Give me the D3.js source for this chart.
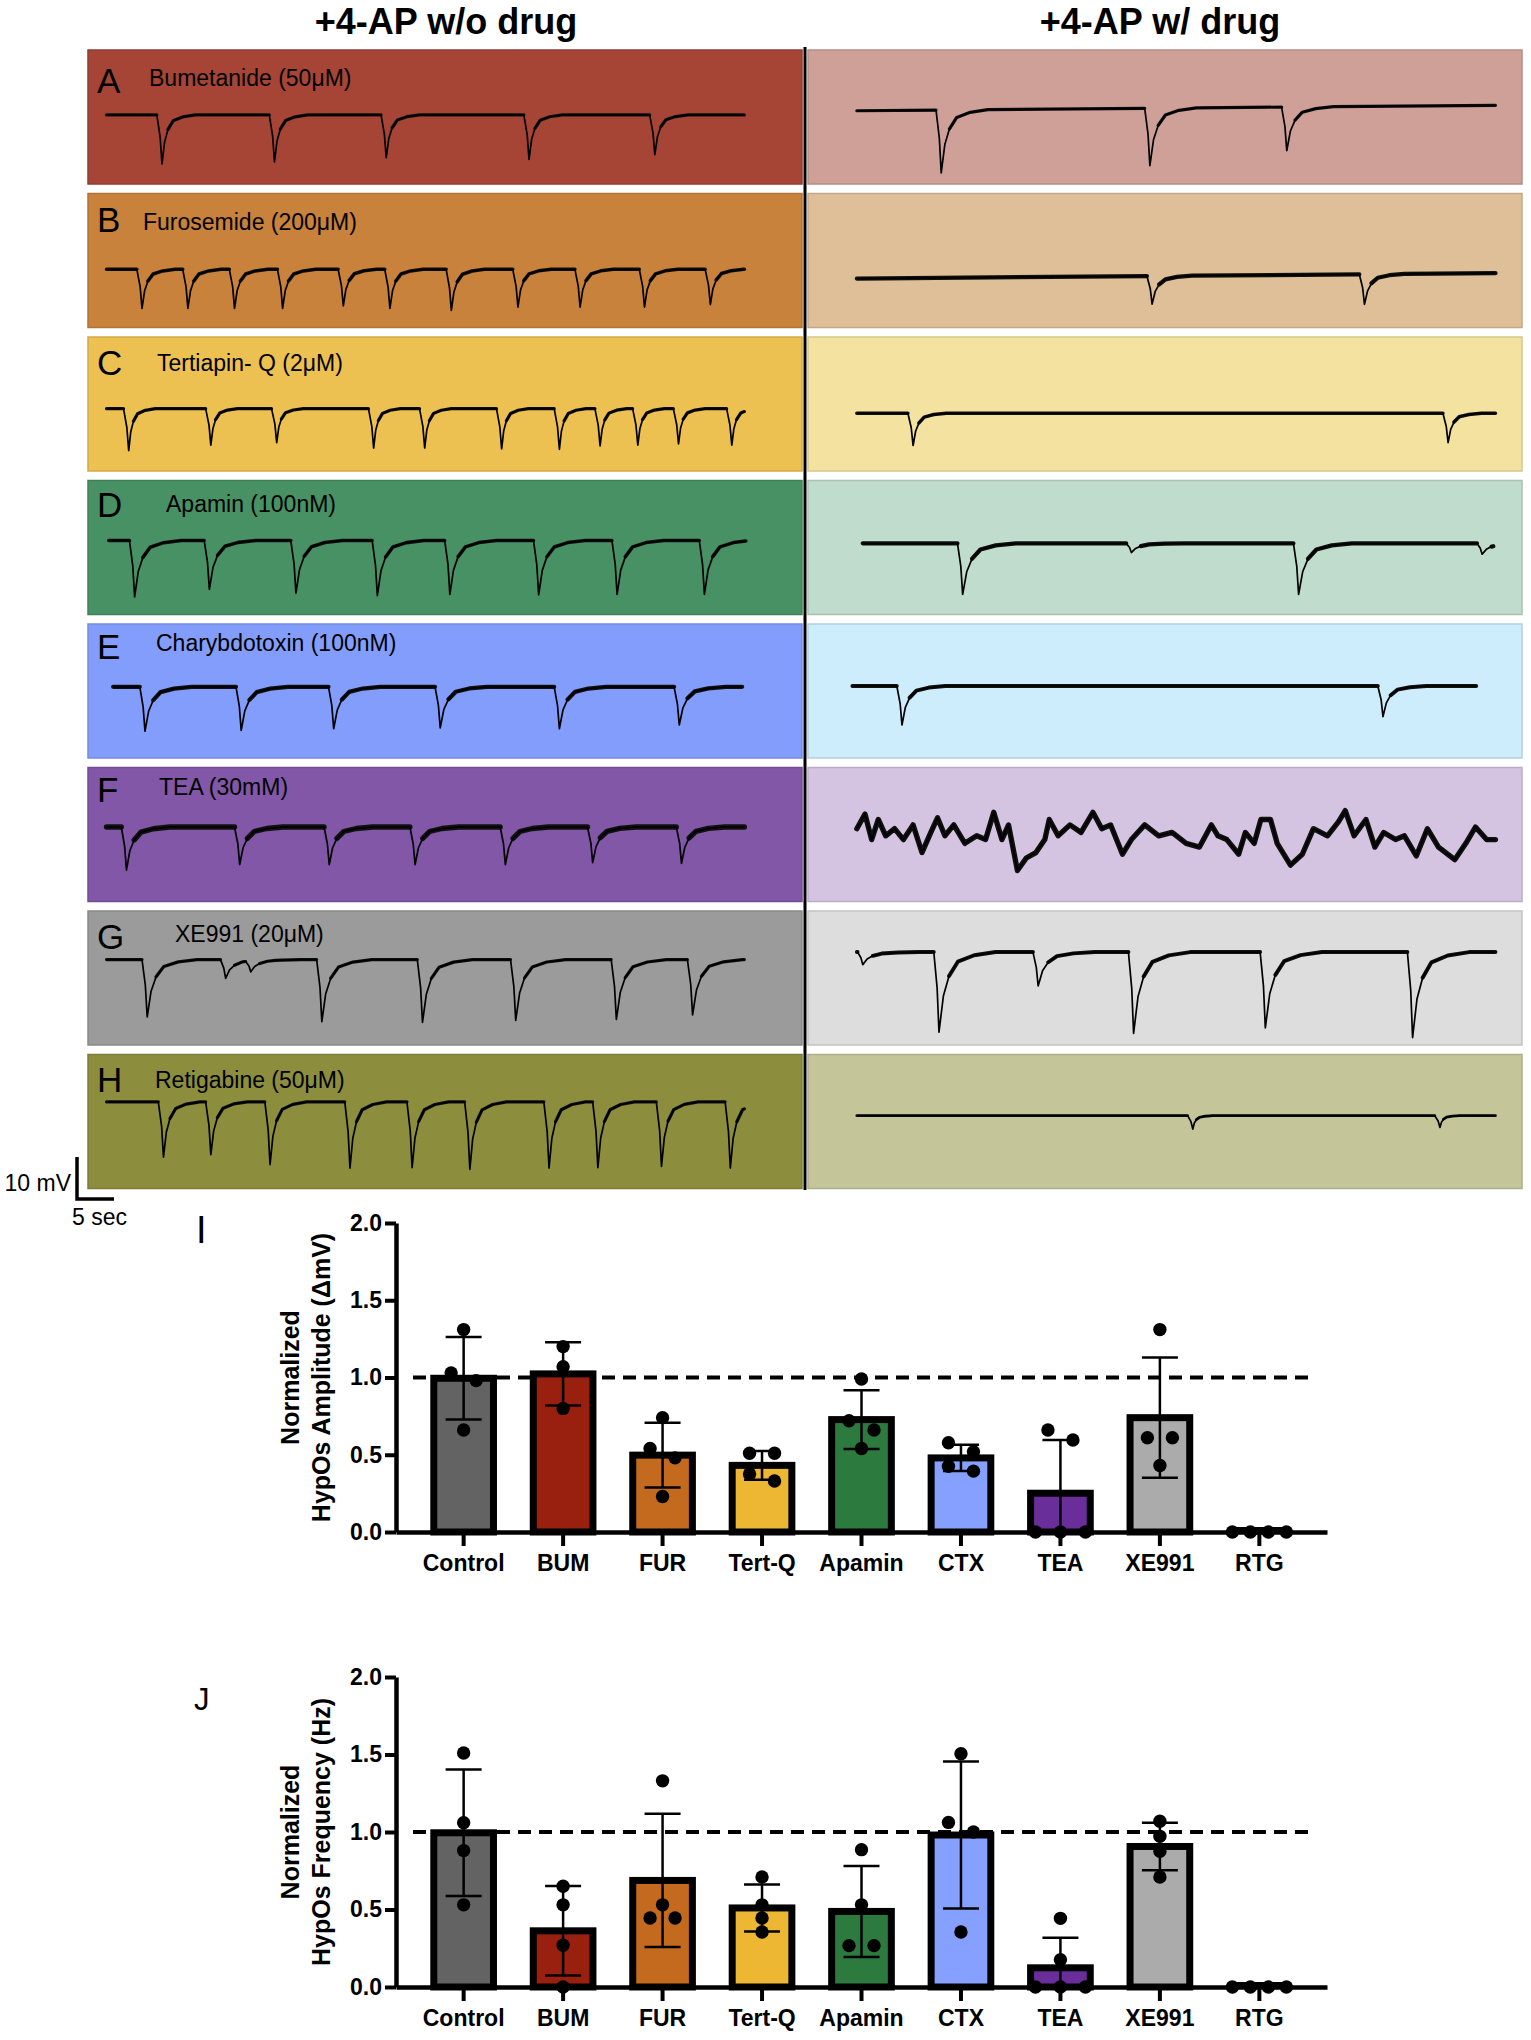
<!DOCTYPE html>
<html>
<head>
<meta charset="utf-8">
<script src="https://cdn.jsdelivr.net/npm/d3@7"></script>
<style>
  body { margin: 0; background: #fff; }
  svg text { font-family: "Liberation Sans", Arial, sans-serif; fill: #000; }
</style>
</head>
<body>
<div id="fig"></div>
<script>
// ---------------- data ----------------
var letters = ["A", "B", "C", "D", "E", "F", "G", "H"];
var drugs = ["Bumetanide (50μM)", "Furosemide (200μM)", "Tertiapin- Q (2μM)", "Apamin (100nM)",
             "Charybdotoxin (100nM)", "TEA (30mM)", "XE991 (20μM)", "Retigabine (50μM)"];
var colorsNoDrug = ["#a64536", "#c8823c", "#ecc151", "#489164", "#839dfc", "#8257a8", "#9b9b9b", "#8c8e3e"];
var colorsDrug   = ["#cea098", "#debf98", "#f3e2a0", "#c0dccc", "#cdecfc", "#d4c4e2", "#dcdddc", "#c4c69a"];

// traces: time in s from panel edge, voltage in mV below panel top
var spanNoDrug = [[2.5, 88.7], [2.5, 88.7], [2.5, 88.7], [2.8, 88.9], [3.4, 88.4], [2.5, 88.7], [2.5, 88.7], [2.5, 88.7]];
var spanDrug   = [[6.6, 92.9], [6.6, 92.9], [6.6, 92.9], [7.4, 92.6], [6.0, 90.3], [6.6, 92.9], [6.6, 92.9], [6.6, 92.9]];

var baseNoDrug = [[[0, 15.5]], [[0, 18.1]], [[0, 17.1]], [[0, 14.3]], [[0, 15.0]], [[0, 14.2]], [[0, 11.6]], [[0, 11.3]]];
var teaDrugTrace = [
  [6.6, 14.6], [7.7, 11.1], [8.6, 17.2], [9.5, 12.4], [10.5, 16.3], [11.7, 14.6], [12.9, 17.2], [14.2, 13.7],
  [15.4, 20.3], [16.6, 15.5], [17.5, 12.0], [18.5, 16.3], [19.7, 13.7], [21.2, 18.1], [22.8, 16.3], [24.0, 17.2],
  [25.1, 10.7], [26.2, 17.2], [27.1, 13.7], [28.3, 24.6], [29.5, 21.6], [30.8, 20.3], [32.0, 17.2], [32.6, 12.4],
  [33.8, 16.3], [35.4, 13.7], [36.9, 15.5], [38.5, 10.7], [39.7, 14.6], [40.9, 13.7], [42.5, 20.7], [43.7, 17.2],
  [45.5, 13.7], [47.4, 16.3], [49.2, 15.5], [51.1, 18.1], [52.9, 19.0], [54.5, 13.7], [55.4, 16.3], [56.6, 17.2],
  [58.2, 20.7], [59.1, 15.5], [60.3, 18.1], [61.2, 12.4], [62.5, 12.4], [63.4, 18.1], [65.2, 23.3], [66.8, 20.7],
  [68.3, 14.6], [70.2, 16.3], [71.7, 12.9], [72.6, 10.3], [73.8, 16.3], [75.4, 12.4], [76.6, 19.0], [77.8, 15.5],
  [79.4, 17.2], [80.6, 16.3], [82.2, 21.1], [83.7, 14.6], [85.2, 19.0], [87.4, 22.0], [88.9, 18.1], [90.2, 14.2],
  [91.7, 17.2], [92.9, 17.2]
];
var baseDrug = [[[6.6, 14.5], [92.9, 13.2]], [[6.6, 20.3], [92.9, 19.0]], [[0, 18.2]], [[0, 15.0]], [[0, 14.8]],
                teaDrugTrace, [[0, 9.8]], [[0, 14.6]]];

// events: [time of trough (s), depth (mV)]
var eventsNoDrug = [
  [[10.0, 11.7], [25.2, 11.2], [40.3, 10.2], [59.6, 10.6], [76.6, 9.5]],
  [[7.3, 9.3], [13.5, 9.3], [19.8, 9.3], [26.3, 9.3], [34.5, 8.7], [40.8, 9.3], [49.1, 9.8], [58.1, 9.0], [66.5, 9.0], [75.2, 9.0], [84.1, 8.4]],
  [[5.5, 10.0], [16.6, 8.7], [25.5, 8.1], [38.6, 9.4], [45.5, 9.4], [55.9, 9.6], [63.7, 9.7], [69.2, 8.9], [74.3, 8.7], [79.8, 8.4], [87.0, 8.7]],
  [[6.3, 13.5], [16.4, 11.7], [28.1, 12.6], [39.1, 13.2], [48.9, 12.9], [60.9, 13.0], [71.5, 12.9], [83.3, 12.9]],
  [[7.7, 10.6], [20.7, 10.4], [33.2, 10.0], [47.6, 9.8], [63.7, 10.0], [79.9, 9.1]],
  [[5.2, 10.3], [20.5, 9.0], [32.6, 9.0], [44.2, 9.0], [56.4, 9.0], [68.2, 8.5], [80.2, 8.7]],
  [[8.0, 13.7], [18.6, 4.5], [22.0, 2.6], [31.6, 14.8], [45.2, 15.0], [57.8, 14.5], [71.4, 14.3], [81.7, 13.2]],
  [[10.2, 13.2], [16.6, 12.6], [24.6, 15.0], [35.4, 15.8], [43.8, 15.7], [51.6, 16.1], [62.3, 15.8], [68.9, 15.7], [77.5, 15.4], [86.8, 15.8]]
];
var eventsDrug = [
  [[18.0, 15.0], [46.2, 13.7], [64.7, 10.4]],
  [[46.5, 6.7], [75.2, 7.2]],
  [[14.2, 7.7], [86.5, 7.0]],
  [[20.9, 12.2], [43.7, 2.2], [66.3, 12.2], [91.1, 2.6]],
  [[12.7, 9.3], [77.7, 7.3]],
  [],
  [[7.4, 3.0], [17.7, 19.1], [31.1, 8.1], [44.0, 19.4], [61.8, 18.1], [81.7, 20.4]],
  [[52.0, 3.2], [85.4, 2.8]]
];
// recovery stretch and baseline noise (mV)
var recoveryNoDrug = [1.0, 1.0, 0.8, 1.4, 1.4, 1.3, 1.5, 1.1];
var recoveryDrug   = [1.4, 1.2, 1.0, 1.6, 1.3, 1.0, 1.7, 0.6];
var noiseNoDrug = [0.9, 1.0, 0.9, 1.0, 1.2, 1.5, 0.9, 0.9];
var noiseDrug   = [0.9, 1.2, 1.0, 1.2, 1.1, 1.5, 1.1, 0.8];

// bar charts
var groups = ["Control", "BUM", "FUR", "Tert-Q", "Apamin", "CTX", "TEA", "XE991", "RTG"];
var groupColors = ["#636363", "#99200f", "#c46a1e", "#edb733", "#2c7a3e", "#86a0ff", "#6a2e9a", "#ababab", "#ffffff"];
var amplitudePoints = [
  [1.31, 1.03, 0.98, 0.66], [1.20, 1.07, 0.80], [0.74, 0.54, 0.48, 0.23], [0.51, 0.51, 0.375, 0.33],
  [0.99, 0.72, 0.66, 0.54], [0.578, 0.52, 0.426, 0.394], [0.66, 0.595, 0, 0, 0], [1.31, 0.61, 0.61, 0.43], [0, 0, 0, 0]
];
var frequencyPoints = [
  [1.51, 1.06, 0.88, 0.53], [0.65, 0.53, 0.27, 0], [1.33, 0.53, 0.445, 0.445], [0.71, 0.53, 0.445, 0.355],
  [0.886, 0.53, 0.267, 0.267], [1.505, 1.062, 1.0, 0.355], [0.443, 0.176, 0, 0, 0], [1.069, 0.972, 0.875, 0.71], [0, 0, 0, 0]
];
var yTicks = [0, 0.5, 1, 1.5, 2];
var refLevel = 1.0;

// ---------------- layout ----------------
var width = 1531, height = 2040;
var rowTop0 = 50, rowStep = 143.5, rowH = 134;
var colX = [88, 808], colW = 714;
var pxPerSec = 7.4, pxPerMv = 4.19;
var labelDx = [61, 55, 69, 78, 68, 71, 87, 67];
var labelDy = [36, 36, 34, 31, 27, 27, 31, 33];
var letterDy = [43, 38, 38, 36, 35, 34, 38, 37];

var svg = d3.select("#fig").append("svg")
  .attr("width", width).attr("height", height);

svg.append("text").attr("x", 446).attr("y", 34).attr("text-anchor", "middle")
  .style("font-size", "36px").style("font-weight", "bold").text("+4-AP w/o drug");
svg.append("text").attr("x", 1160).attr("y", 34).attr("text-anchor", "middle")
  .style("font-size", "36px").style("font-weight", "bold").text("+4-AP w/ drug");

// event template: time knots (s, before/after trough) and depth fraction
var knotT = [-0.7, -0.25, 0, 0.35, 0.8, 1.5, 2.8, 4.5];
var knotF = [0, 0.45, 1, 0.55, 0.3, 0.12, 0.04, 0];

function buildTrace(span, base, events, stretch) {
  var baseline;
  if (base.length === 1) baseline = function () { return base[0][1]; };
  else baseline = d3.scaleLinear().domain(base.map(d => d[0])).range(base.map(d => d[1])).clamp(true);

  var tmpls = events.map(function (e) {
    var ks = knotT.map(k => e[0] + (k > 0 ? k * stretch : k));
    return { ks: ks, amp: e[1], f: d3.scaleLinear().domain(ks).range(knotF).clamp(true) };
  });
  var times = [span[0], span[1]];
  base.forEach(function (b) { if (b[0] > span[0] && b[0] < span[1]) times.push(b[0]); });
  tmpls.forEach(function (tp) {
    tp.ks.forEach(function (k) { if (k > span[0] && k < span[1]) times.push(k); });
  });
  times = Array.from(new Set(times)).sort(d3.ascending);
  return times.map(function (t) {
    var depth = 0, fast = false;
    tmpls.forEach(function (tp) {
      depth += tp.amp * tp.f(t);
      // the fast part of an event (onset to early recovery) is drawn thin
      if (t > tp.ks[0] + 1e-6 && t < tp.ks[4] - 1e-6) fast = true;
    });
    return { t: t, v: baseline(t) + depth, fast: fast };
  });
}

function drawPanel(col, i) {
  var x0 = colX[col], top = rowTop0 + rowStep * i;
  var fill = col === 0 ? colorsNoDrug[i] : colorsDrug[i];
  svg.append("rect").attr("x", x0).attr("y", top).attr("width", colW).attr("height", rowH)
    .attr("fill", fill).attr("stroke", d3.color(fill).darker(0.35)).attr("stroke-width", 1.5);

  var x = d3.scaleLinear().domain([0, colW / pxPerSec]).range([x0, x0 + colW]);
  var y = d3.scaleLinear().domain([0, rowH / pxPerMv]).range([top, top + rowH]);

  var pts = col === 0
    ? buildTrace(spanNoDrug[i], baseNoDrug[i], eventsNoDrug[i], recoveryNoDrug[i])
    : buildTrace(spanDrug[i], baseDrug[i], eventsDrug[i], recoveryDrug[i]);
  var noise = col === 0 ? noiseNoDrug[i] : noiseDrug[i];

  svg.append("path").attr("d", d3.line().x(d => x(d.t)).y(d => y(d.v)).defined(d => !d.fast)(pts))
    .attr("fill", "none").attr("stroke", "#111").attr("stroke-width", noise * pxPerMv * 0.85)
    .attr("stroke-linejoin", "round").attr("stroke-linecap", "round");
  svg.append("path").attr("d", d3.line().x(d => x(d.t)).y(d => y(d.v))(pts))
    .attr("fill", "none").attr("stroke", "#000").attr("stroke-width", 1.7)
    .attr("stroke-linejoin", "round");

  if (col === 0) {
    svg.append("text").attr("x", x0 + 9).attr("y", top + letterDy[i])
      .style("font-size", "35px").text(letters[i]);
    svg.append("text").attr("x", x0 + labelDx[i]).attr("y", top + labelDy[i])
      .style("font-size", "23px").text(drugs[i]);
  }
}

for (var r = 0; r < letters.length; r++) { drawPanel(0, r); drawPanel(1, r); }

svg.append("line").attr("x1", 805).attr("x2", 805).attr("y1", 47).attr("y2", 1190)
  .attr("stroke", "#000").attr("stroke-width", 3);

// scale bar
(function () {
  var bx = 77, by = 1199;
  svg.append("path")
    .attr("d", "M" + bx + "," + (by - 10 * pxPerMv) + "V" + by + "H" + (bx + 5 * pxPerSec))
    .attr("fill", "none").attr("stroke", "#000").attr("stroke-width", 3.5);
  svg.append("text").attr("x", 71).attr("y", 1191).attr("text-anchor", "end")
    .style("font-size", "23px").text("10 mV");
  svg.append("text").attr("x", 72).attr("y", 1225).style("font-size", "23px").text("5 sec");
})();

// ---------------- bar charts ----------------
function swarmOffsets(vals, y, r) {
  var idx = d3.range(vals.length).sort((a, b) => vals[b] - vals[a]);
  var clusters = [], cur = [];
  idx.forEach(function (k, j) {
    if (j > 0 && Math.abs(y(vals[idx[j - 1]]) - y(vals[k])) >= 2 * r) { clusters.push(cur); cur = []; }
    cur.push(k);
  });
  clusters.push(cur);
  var off = [];
  clusters.forEach(function (c) {
    var step = c.length > 1 ? Math.min(25, 54 / (c.length - 1)) : 0;
    c.forEach(function (k, j) { off[k] = (j - (c.length - 1) / 2) * step; });
  });
  return off;
}

function barChart(opts) {
  var g = svg.append("g");
  var y = d3.scaleLinear().domain([0, 2]).range([opts.y0, opts.y1]);
  var x = d3.scaleBand().domain(groups).range([396, 1327]).paddingInner(0.4).paddingOuter(0.38);

  g.append("line").attr("x1", 413).attr("x2", 1316).attr("y1", y(refLevel)).attr("y2", y(refLevel))
    .attr("stroke", "#000").attr("stroke-width", 4).attr("stroke-dasharray", "13,8");

  var stats = opts.points.map(p => ({ mean: d3.mean(p), sd: d3.deviation(p) }));

  groups.forEach(function (grp, k) {
    var s = stats[k];
    if (s.mean > 0) {
      g.append("rect").attr("x", x(grp)).attr("y", y(s.mean))
        .attr("width", x.bandwidth()).attr("height", y(0) - y(s.mean))
        .attr("fill", groupColors[k]).attr("stroke", "#000").attr("stroke-width", 7);
    } else {
      g.append("line").attr("x1", x(grp)).attr("x2", x(grp) + x.bandwidth())
        .attr("y1", y(0) - 2).attr("y2", y(0) - 2).attr("stroke", "#000").attr("stroke-width", 6);
    }
  });

  var yAx = g.append("g").attr("transform", "translate(396,0)")
    .call(d3.axisLeft(y).tickValues(yTicks).tickFormat(d3.format(".1f")).tickSize(11).tickSizeOuter(0).tickPadding(3));
  var xAx = g.append("g").attr("transform", "translate(0," + y(0) + ")")
    .call(d3.axisBottom(x).tickSize(14).tickSizeOuter(0).tickPadding(9));
  [yAx, xAx].forEach(function (ax) {
    ax.select(".domain").attr("stroke", "#000").attr("stroke-width", 4.5);
    ax.selectAll(".tick line").attr("stroke", "#000").attr("stroke-width", 4);
    ax.selectAll(".tick text").style("font-size", "23px").style("font-weight", "bold")
      .style("font-family", "'Liberation Sans', Arial, sans-serif");
  });

  groups.forEach(function (grp, k) {
    var s = stats[k], cx = x(grp) + x.bandwidth() / 2;
    if (s.sd > 0) {
      var lo = Math.max(0, s.mean - s.sd), hi = s.mean + s.sd;
      g.append("line").attr("x1", cx).attr("x2", cx).attr("y1", y(hi)).attr("y2", y(lo))
        .attr("stroke", "#000").attr("stroke-width", 2.5);
      g.append("line").attr("x1", cx - 18).attr("x2", cx + 18).attr("y1", y(hi)).attr("y2", y(hi))
        .attr("stroke", "#000").attr("stroke-width", 2.5);
      if (s.mean - s.sd > 0) {
        g.append("line").attr("x1", cx - 18).attr("x2", cx + 18).attr("y1", y(lo)).attr("y2", y(lo))
          .attr("stroke", "#000").attr("stroke-width", 2.5);
      }
    }
    var off = swarmOffsets(opts.points[k], y, 6.5);
    g.selectAll(null).data(opts.points[k]).enter().append("circle")
      .attr("cx", (d, j) => cx + off[j]).attr("cy", d => y(d)).attr("r", 6.7).attr("fill", "#000");
  });

  var midY = (opts.y0 + opts.y1) / 2;
  g.append("text").attr("transform", "translate(299," + midY + ") rotate(-90)")
    .attr("text-anchor", "middle").style("font-size", "25px").style("font-weight", "bold").text("Normalized");
  g.append("text").attr("transform", "translate(330," + midY + ") rotate(-90)")
    .attr("text-anchor", "middle").style("font-size", "25px").style("font-weight", "bold").text(opts.title);
  g.append("text").attr("x", opts.lx).attr("y", opts.ly).style("font-size", opts.lsize + "px").text(opts.label);
}

barChart({ y0: 1532, y1: 1223, points: amplitudePoints, title: "HypOs Amplitude (ΔmV)",
  label: "I", lx: 196, ly: 1243, lsize: 38 });
barChart({ y0: 1987, y1: 1677, points: frequencyPoints, title: "HypOs Frequency (Hz)",
  label: "J", lx: 194, ly: 1710, lsize: 31 });
</script>
</body>
</html>
